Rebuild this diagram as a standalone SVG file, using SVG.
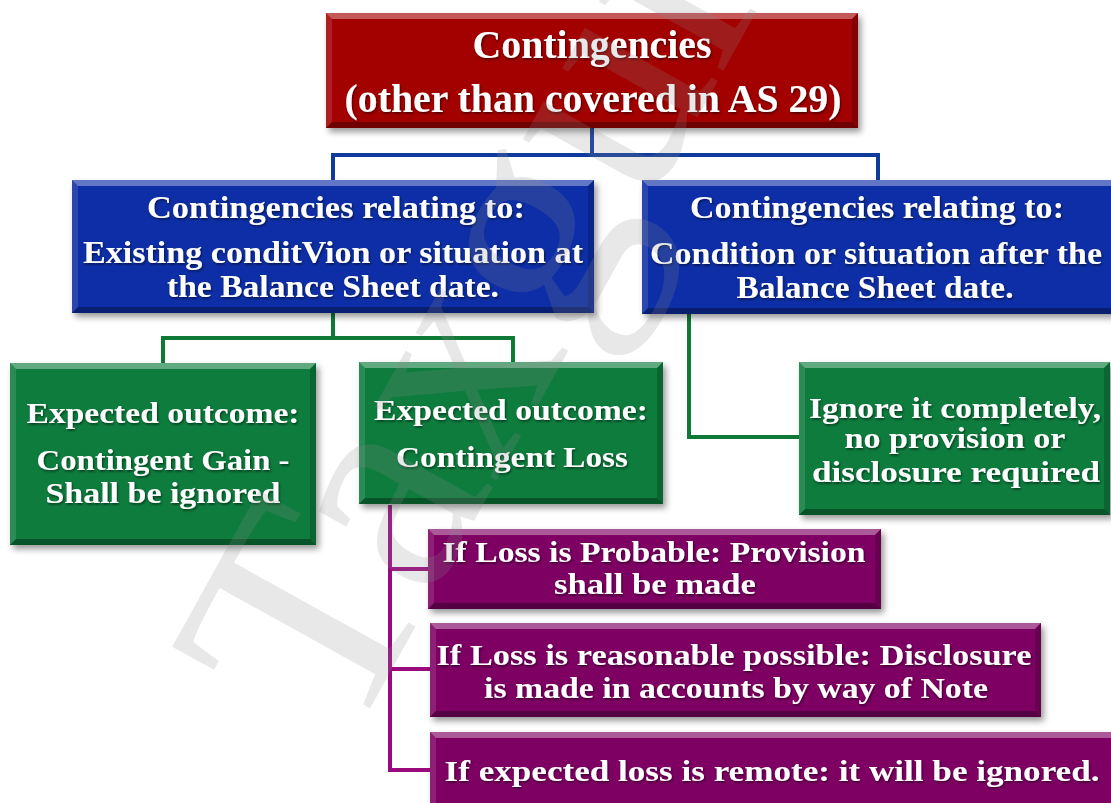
<svg xmlns="http://www.w3.org/2000/svg" width="1111" height="803" viewBox="0 0 1111 803">
  <defs>
    <filter id="boxShadow" x="-10%" y="-10%" width="125%" height="140%">
      <feDropShadow dx="3" dy="4" stdDeviation="3" flood-color="#000" flood-opacity="0.4"/>
    </filter>
    <filter id="textShadow" x="-5%" y="-20%" width="110%" height="150%">
      <feDropShadow dx="1" dy="1.5" stdDeviation="0.8" flood-color="#000" flood-opacity="0.55"/>
    </filter>
    <style>
      .red { fill: #a30606; }
      .blue { fill: #0a2fa6; }
      .green { fill: #077b3c; }
      .purple { fill: #7e0564; }
      .base { filter: url(#boxShadow); }
      .bt { fill: #ffffff; fill-opacity: 0.35; }
      .bl { fill: #ffffff; fill-opacity: 0.12; }
      .bb { fill: #000000; fill-opacity: 0.32; }
      .br { fill: #000000; fill-opacity: 0.18; }
      .lbl { font-family: "Liberation Serif", "DejaVu Serif", serif; font-weight: bold; fill: #ffffff; text-anchor: middle; filter: url(#textShadow); }
      .t1 { font-size: 39px; }
      .t2 { font-size: 31px; }
      .t3 { font-size: 30px; }
      .conn { fill: none; stroke-width: 4; stroke-linecap: square; }
      .c-blue { stroke: #0f3c9c; }
      .c-green { stroke: #0e7a36; }
      .c-purple { stroke: #9a0a7e; }
      .wm { font-family: "Liberation Serif", serif; font-size: 310px; fill: #8c8c8c; fill-opacity: 0.2; }
    </style>
  </defs>

  <rect width="1111" height="803" fill="#ffffff"/>

  <!-- connectors -->
  <g id="connectors">
    <path class="conn c-blue" d="M592,128 V155 M333,155 H878 M333,155 V180 M878,155 V180"/>
    <path class="conn c-green" d="M333,313 V338 M163,338 H513 M163,338 V363 M513,338 V362"/>
    <path class="conn c-green" d="M689,316 V437 H800"/>
    <path class="conn c-purple" d="M390,507 V770 M390,569 H428 M390,669 H430 M390,770 H430"/>
  </g>

  <!-- root -->
  <g id="contingencies">
    <rect class="base red" x="326" y="13" width="532" height="115"/>
    <polygon class="bt" points="326,13 858,13 852,19 332,19"/>
    <polygon class="bl" points="326,13 332,19 332,122 326,128"/>
    <polygon class="br" points="858,13 852,19 852,122 858,128"/>
    <polygon class="bb" points="326,128 858,128 852,122 332,122"/>
    <text class="lbl t1" x="592" y="58" textLength="239" lengthAdjust="spacingAndGlyphs">Contingencies</text>
    <text class="lbl t1" x="593" y="112" textLength="497" lengthAdjust="spacingAndGlyphs">(other than covered in AS 29)</text>
  </g>

  <g id="existing-condition">
    <rect class="base blue" x="72" y="180" width="522" height="133"/>
    <polygon class="bt" points="72,180 594,180 588,186 78,186"/>
    <polygon class="bl" points="72,180 78,186 78,307 72,313"/>
    <polygon class="br" points="594,180 588,186 588,307 594,313"/>
    <polygon class="bb" points="72,313 594,313 588,307 78,307"/>
    <text class="lbl t2" x="336" y="218" textLength="378" lengthAdjust="spacingAndGlyphs">Contingencies relating to:</text>
    <text class="lbl t2" x="333" y="263" textLength="500" lengthAdjust="spacingAndGlyphs">Existing conditVion or situation at</text>
    <text class="lbl t2" x="333" y="297" textLength="332" lengthAdjust="spacingAndGlyphs">the Balance Sheet date.</text>
  </g>

  <g id="after-condition">
    <rect class="base blue" x="642" y="180" width="478" height="134"/>
    <polygon class="bt" points="642,180 1120,180 1114,186 648,186"/>
    <polygon class="bl" points="642,180 648,186 648,308 642,314"/>
    <polygon class="bb" points="642,314 1120,314 1114,308 648,308"/>
    <text class="lbl t2" x="877" y="218" textLength="374" lengthAdjust="spacingAndGlyphs">Contingencies relating to:</text>
    <text class="lbl t2" x="876" y="264" textLength="452" lengthAdjust="spacingAndGlyphs">Condition or situation after the</text>
    <text class="lbl t2" x="875" y="298" textLength="277" lengthAdjust="spacingAndGlyphs">Balance Sheet date.</text>
  </g>

  <g id="contingent-gain">
    <rect class="base green" x="10" y="363" width="306" height="182"/>
    <polygon class="bt" points="10,363 316,363 310,369 16,369"/>
    <polygon class="bl" points="10,363 16,369 16,539 10,545"/>
    <polygon class="br" points="316,363 310,369 310,539 316,545"/>
    <polygon class="bb" points="10,545 316,545 310,539 16,539"/>
    <text class="lbl t3" x="163" y="423" textLength="273" lengthAdjust="spacingAndGlyphs">Expected outcome:</text>
    <text class="lbl t3" x="163" y="470" textLength="253" lengthAdjust="spacingAndGlyphs">Contingent Gain -</text>
    <text class="lbl t3" x="163" y="503" textLength="235" lengthAdjust="spacingAndGlyphs">Shall be ignored</text>
  </g>

  <g id="contingent-loss">
    <rect class="base green" x="359" y="362" width="304" height="142"/>
    <polygon class="bt" points="359,362 663,362 657,368 365,368"/>
    <polygon class="bl" points="359,362 365,368 365,498 359,504"/>
    <polygon class="br" points="663,362 657,368 657,498 663,504"/>
    <polygon class="bb" points="359,504 663,504 657,498 365,498"/>
    <text class="lbl t3" x="511" y="420" textLength="274" lengthAdjust="spacingAndGlyphs">Expected outcome:</text>
    <text class="lbl t3" x="512" y="467" textLength="232" lengthAdjust="spacingAndGlyphs">Contingent Loss</text>
  </g>

  <g id="ignore-completely">
    <rect class="base green" x="799" y="362" width="311" height="153"/>
    <polygon class="bt" points="799,362 1110,362 1104,368 805,368"/>
    <polygon class="bl" points="799,362 805,368 805,509 799,515"/>
    <polygon class="br" points="1110,362 1104,368 1104,509 1110,515"/>
    <polygon class="bb" points="799,515 1110,515 1104,509 805,509"/>
    <text class="lbl t3" x="955" y="418" textLength="292" lengthAdjust="spacingAndGlyphs">Ignore it completely,</text>
    <text class="lbl t3" x="955" y="448" textLength="221" lengthAdjust="spacingAndGlyphs">no provision or</text>
    <text class="lbl t3" x="956" y="482" textLength="288" lengthAdjust="spacingAndGlyphs">disclosure required</text>
  </g>

  <g id="loss-probable">
    <rect class="base purple" x="428" y="529" width="453" height="80"/>
    <polygon class="bt" points="428,529 881,529 875,535 434,535"/>
    <polygon class="bl" points="428,529 434,535 434,603 428,609"/>
    <polygon class="br" points="881,529 875,535 875,603 881,609"/>
    <polygon class="bb" points="428,609 881,609 875,603 434,603"/>
    <text class="lbl t3" x="654" y="562" textLength="423" lengthAdjust="spacingAndGlyphs">If Loss is Probable: Provision</text>
    <text class="lbl t3" x="655" y="594" textLength="202" lengthAdjust="spacingAndGlyphs">shall be made</text>
  </g>

  <g id="loss-possible">
    <rect class="base purple" x="430" y="623" width="611" height="94"/>
    <polygon class="bt" points="430,623 1041,623 1035,629 436,629"/>
    <polygon class="bl" points="430,623 436,629 436,711 430,717"/>
    <polygon class="br" points="1041,623 1035,629 1035,711 1041,717"/>
    <polygon class="bb" points="430,717 1041,717 1035,711 436,711"/>
    <text class="lbl t3" x="734" y="665" textLength="595" lengthAdjust="spacingAndGlyphs">If Loss is reasonable possible: Disclosure</text>
    <text class="lbl t3" x="736" y="698" textLength="504" lengthAdjust="spacingAndGlyphs">is made in accounts by way of Note</text>
  </g>

  <g id="loss-remote">
    <rect class="base purple" x="430" y="732" width="690" height="80"/>
    <polygon class="bt" points="430,732 1120,732 1114,738 436,738"/>
    <polygon class="bl" points="430,732 436,738 436,806 430,812"/>
    <text class="lbl t3" x="772" y="781" textLength="655" lengthAdjust="spacingAndGlyphs">If expected loss is remote: it will be ignored.</text>
  </g>

  <!-- faint watermark across the chart -->
  <text class="wm" transform="translate(347,750) rotate(-61)">Taxguru</text>
</svg>
